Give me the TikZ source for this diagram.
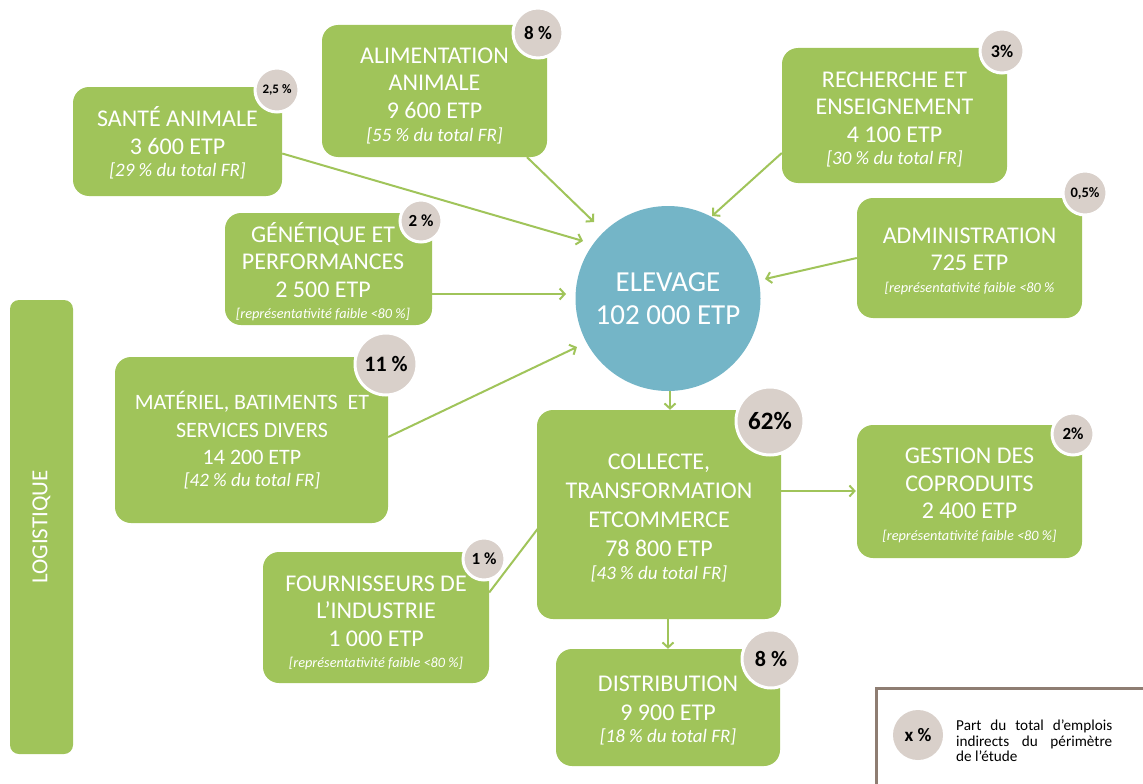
\documentclass[tikz,border=0pt]{standalone}
\usepackage{fontspec}
\setmainfont{Carlito}
\usetikzlibrary{arrows.meta,calc}
\pgfdeclarelayer{links}
\pgfsetlayers{links,main}

\definecolor{leaf}{HTML}{A0C45A}
\definecolor{sky}{HTML}{74B5C7}
\definecolor{pebble}{HTML}{D9D0CA}
\definecolor{bark}{HTML}{8E7D72}

\newcommand\paren[1]{{\fontsize{19}{21}\selectfont\itshape #1}}
\newcommand\faible{{\fontsize{14.3}{16}\selectfont\itshape [représentativité faible <80 \%]}}

\tikzset{
  sector/.style={fill=leaf, rounded corners=16pt, inner sep=0pt},
  caption/.style={text=white, align=center, inner sep=0pt,
    font=\fontsize{24}{27.5}\selectfont},
  badge/.style={circle, fill=pebble, draw=white, line width=3pt, inner sep=0pt,
    minimum size=#1},
  link/.style={draw=leaf, line width=2pt},
  flow/.style={link, -{Straight Barb[length=5pt,width=11pt,line width=2pt]}},
}

\begin{document}
\begin{tikzpicture}[x=1pt,y=-1pt]
\useasboundingbox (0,0) rectangle (1143,784);

% ---- sector boxes
\node[sector, minimum width=209pt, minimum height=109pt] (sante) at (177.5,141.5) {};
\node[sector, minimum width=225pt, minimum height=132pt] (alim)  at (434.5,91) {};
\node[sector, minimum width=225pt, minimum height=135pt] (rech)  at (894.5,115.5) {};
\node[sector, minimum width=207pt, minimum height=112pt] (gene)  at (328.5,269) {};
\node[sector, minimum width=225pt, minimum height=120pt] (admin) at (969.5,258) {};
\node[sector, minimum width=273pt, minimum height=166pt] (mat)   at (251.5,440) {};
\node[sector, minimum width=244pt, minimum height=209pt] (coll)  at (659,514.5) {};
\node[sector, minimum width=225pt, minimum height=133pt] (gest)  at (969.5,491.5) {};
\node[sector, minimum width=226pt, minimum height=131pt] (four)  at (376,617.5) {};
\node[sector, minimum width=224pt, minimum height=117pt] (dist)  at (668,707.5) {};
\node[sector, rounded corners=9pt, minimum width=454pt, minimum height=63pt, rotate=90,
      text=white, font=\fontsize{23}{26}\selectfont] (logi) at (41.5,527) {LOGISTIQUE};

% ---- central circle
\node[circle, fill=sky, minimum size=185pt, inner sep=0pt, text=white, align=center,
      font=\fontsize{29}{33}\selectfont] (elevage) at (668,298.5) {ELEVAGE\\102 000 ETP};

% ---- box captions
\node[caption] (sante-t) at (177.5,143) {SANTÉ ANIMALE\\3 600 ETP\\[-5pt]\paren{[29 \% du total FR]}};
\node[caption] (alim-t)  at (434.5,96) {ALIMENTATION\\ANIMALE\\9 600 ETP\\[-4pt]\paren{[55 \% du total FR]}};
\node[caption] (rech-t)  at (894.5,119.5) {RECHERCHE ET\\ENSEIGNEMENT\\4 100 ETP\\[-5pt]\paren{[30 \% du total FR]}};
\node[caption] (gene-t)  at (323,271.5) {GÉNÉTIQUE ET\\PERFORMANCES\\2 500 ETP\\[-6pt]\faible};
\node[caption] (admin-t) at (969.5,261) {ADMINISTRATION\\725 ETP\\[-6pt]{\fontsize{14.3}{16}\selectfont\itshape [représentativité faible <80 \%}};
\node[caption, font=\fontsize{22}{27.5}\selectfont] (mat-t) at (252,440) {MATÉRIEL, BATIMENTS\ \ ET\\SERVICES DIVERS\\14 200 ETP\\[-6pt]\paren{[42 \% du total FR]}};
\node[caption, font=\fontsize{24}{29}\selectfont] (coll-t) at (659,517.5) {COLLECTE,\\TRANSFORMATION\\ETCOMMERCE\\78 800 ETP\\[-6pt]\paren{[43 \% du total FR]}};
\node[caption] (gest-t)  at (969.5,495.5) {GESTION DES\\COPRODUITS\\2 400 ETP\\[-6pt]\faible};
\node[caption] (four-t)  at (376,623) {FOURNISSEURS DE\\L’INDUSTRIE\\1 000 ETP\\[-6pt]\faible};
\node[caption, font=\fontsize{24}{29}\selectfont] (dist-t) at (668,710.5) {DISTRIBUTION\\9 900 ETP\\[-7pt]\paren{[18 \% du total FR]}};

% ---- share badges
\node[badge=44pt, font=\bfseries\fontsize{13}{15}\selectfont] (b-sante) at (277,90) {2,5 \%};
\node[badge=50pt, font=\bfseries\fontsize{19}{22}\selectfont] (b-alim)  at (538,33) {8 \%};
\node[badge=44pt, font=\bfseries\fontsize{18}{21}\selectfont] (b-rech)  at (1002,51) {3\%};
\node[badge=42pt, font=\bfseries\fontsize{17}{20}\selectfont] (b-gene)  at (421,221) {2 \%};
\node[badge=44pt, font=\bfseries\fontsize{14.5}{17}\selectfont] (b-admin) at (1085,193) {0,5\%};
\node[badge=62pt, font=\bfseries\fontsize{22}{25}\selectfont] (b-mat)   at (386,364) {11 \%};
\node[badge=68pt, font=\bfseries\fontsize{25}{28}\selectfont] (b-coll)  at (770,421) {62\%};
\node[badge=42pt, font=\bfseries\fontsize{17}{20}\selectfont] (b-gest)  at (1073,434) {2\%};
\node[badge=42pt, font=\bfseries\fontsize{17}{20}\selectfont] (b-four)  at (484,559) {1 \%};
\node[badge=58pt, font=\bfseries\fontsize{22}{25}\selectfont] (b-dist)  at (771,659) {8 \%};

% ---- arrow tips near the circle
\coordinate (t-sante) at (583,241);
\coordinate (t-alim)  at (594,222);
\coordinate (t-rech)  at (712,216);
\coordinate (t-gene)  at (566,294);
\coordinate (t-admin) at (765,279);
\coordinate (t-mat)   at (577,347);

\begin{pgfonlayer}{links}
  \draw[flow] ($(sante.east)+(0,12)$) -- (t-sante);
  \draw[flow] ($(alim.south)+(92.5,0)$) -- (t-alim);
  \draw[flow] ($(rech.west)+(0,37.5)$) -- (t-rech);
  \draw[flow] ($(gene.east)+(0,25)$) -- (t-gene);
  \draw[flow] (admin.west) -- (t-admin);
  \draw[flow] ($(mat.east)+(0,-3)$) -- (t-mat);
  \draw[flow] ($(elevage.south)+(2,-2)$) -- ($(coll.north)+(11,0)$);
  \draw[flow] ($(coll.east)+(0,-23.5)$) -- ($(gest.west)+(-1,-0.5)$);
  \draw[flow] (dist.north |- coll.south) -- (dist.north);
  \draw[link] ($(four.east)+(0,-25)$) -- ($(coll.west)+(8,5)$);
\end{pgfonlayer}

% ---- legend
\node[draw=bark, line width=3pt, anchor=north west, minimum width=300pt,
      minimum height=120pt] (legend) at (875,687) {};
\node[circle, fill=pebble, minimum size=50pt, inner sep=0pt,
      font=\bfseries\fontsize{19}{22}\selectfont] (legend-b) at (918,735) {x \%};
\node[anchor=west, text width=156pt, align=justify, inner sep=0pt,
      font=\fontsize{15.2}{15.5}\selectfont] (legend-t) at (956,741)
  {Part du total d’emplois\linebreak indirects du périmètre\linebreak de l’étude};
\end{tikzpicture}
\end{document}
